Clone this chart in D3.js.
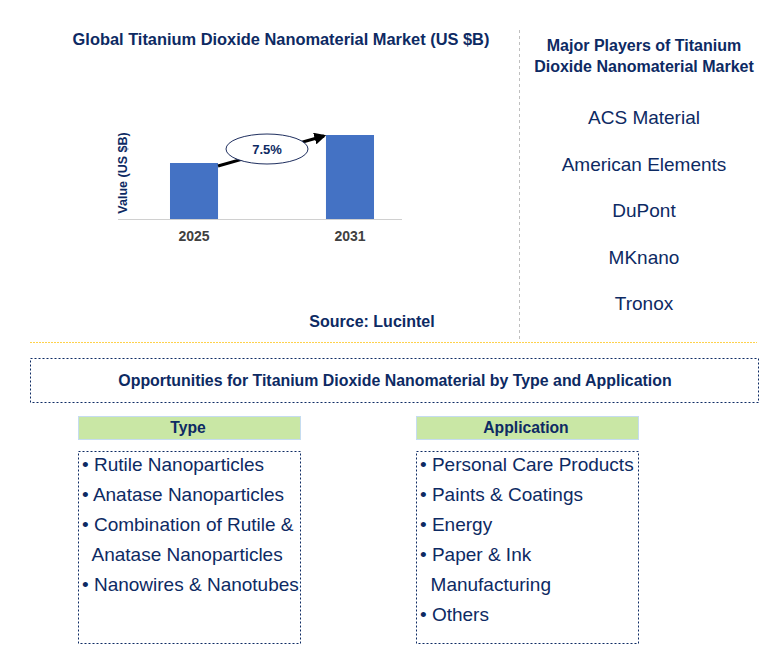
<!DOCTYPE html>
<html><head><meta charset="utf-8">
<script src="https://cdn.jsdelivr.net/npm/d3@7"></script>
<style>body{margin:0;background:#fff}text{font-family:Arial,"Liberation Sans",sans-serif}</style>
</head><body>
<svg id="c" width="783" height="667"></svg>
<script>
var years = ['2025', '2031'];
var values = [1.0, 1.5];
var cagr = '7.5%';
var players = ['ACS Material', 'American Elements', 'DuPont', 'MKnano', 'Tronox'];
var types = ['• Rutile Nanoparticles', '• Anatase Nanoparticles', '• Combination of Rutile &', '  Anatase Nanoparticles', '• Nanowires & Nanotubes'];
var apps = ['• Personal Care Products', '• Paints & Coatings', '• Energy', '• Paper & Ink', '  Manufacturing', '• Others'];

var navy = '#0d2a63';
var svg = d3.select('#c');

svg.append('text').attr('x', 281).attr('y', 45).attr('text-anchor', 'middle')
  .attr('font-size', 16.4).attr('font-weight', 'bold').attr('fill', navy)
  .text('Global Titanium Dioxide Nanomaterial Market (US $B)');

var x = d3.scaleBand().domain(years).range([123.2, 420.8]).paddingInner(0.692).paddingOuter(0.3);
var y = d3.scaleLinear().domain([0, 1.5]).range([219, 135]);

svg.append('line').attr('x1', 118).attr('x2', 402).attr('y1', 219.5).attr('y2', 219.5)
  .attr('stroke', '#d0d0d0');

svg.selectAll('rect.bar').data(values).enter().append('rect').attr('class', 'bar')
  .attr('x', function(d, i){ return x(years[i]); })
  .attr('width', x.bandwidth())
  .attr('y', function(d){ return y(d); })
  .attr('height', function(d){ return y(0) - y(d); })
  .attr('fill', '#4472c4');

svg.append('g').attr('transform', 'translate(0,219)')
  .call(d3.axisBottom(x).tickSize(0).tickPadding(12))
  .call(function(g){ g.select('.domain').remove(); })
  .selectAll('text').attr('font-size', 14).attr('font-weight', 'bold').attr('fill', '#404040')
  .attr('font-family', 'Arial,"Liberation Sans",sans-serif');

svg.append('text').attr('transform', 'translate(127,173) rotate(-90)').attr('text-anchor', 'middle')
  .attr('font-size', 12.5).attr('font-weight', 'bold').attr('fill', navy).text('Value (US $B)');

var defs = svg.append('defs');
defs.append('marker').attr('id', 'ah').attr('viewBox', '0 0 10 10').attr('refX', 8).attr('refY', 5)
  .attr('markerWidth', 4).attr('markerHeight', 4).attr('orient', 'auto')
  .append('path').attr('d', 'M0,0L10,5L0,10z').attr('fill', '#000');
var x0 = x(years[0]) + x.bandwidth(), x1 = x(years[1]);
svg.append('line').attr('x1', x0).attr('y1', y(values[0]) + 3).attr('x2', x1 - 2).attr('y2', y(values[1]) + 1)
  .attr('stroke', '#000').attr('stroke-width', 3).attr('marker-end', 'url(#ah)');
svg.append('ellipse').attr('cx', 267).attr('cy', 149).attr('rx', 41).attr('ry', 15)
  .attr('fill', '#fff').attr('stroke', '#1f2f5f');
svg.append('text').attr('x', 267).attr('y', 154).attr('text-anchor', 'middle')
  .attr('font-family', '"Liberation Serif",serif').attr('font-size', 13).attr('font-weight', 'bold')
  .attr('fill', navy).text(cagr);

svg.append('text').attr('x', 372).attr('y', 327).attr('text-anchor', 'middle')
  .attr('font-size', 16).attr('font-weight', 'bold').attr('fill', navy).text('Source: Lucintel');

svg.append('line').attr('x1', 519.5).attr('x2', 519.5).attr('y1', 30).attr('y2', 340)
  .attr('stroke', '#bfbfbf').attr('stroke-dasharray', '3,3');

svg.append('text').attr('x', 644).attr('y', 51).attr('text-anchor', 'middle')
  .attr('font-size', 16).attr('font-weight', 'bold').attr('fill', navy).text('Major Players of Titanium');
svg.append('text').attr('x', 644).attr('y', 72).attr('text-anchor', 'middle')
  .attr('font-size', 16).attr('font-weight', 'bold').attr('fill', navy).text('Dioxide Nanomaterial Market');
svg.selectAll('text.pl').data(players).enter().append('text').attr('class', 'pl')
  .attr('x', 644).attr('y', function(d, i){ return 124 + i * 46.5; }).attr('text-anchor', 'middle')
  .attr('font-size', 19).attr('fill', navy).text(function(d){ return d; });

svg.append('line').attr('x1', 30).attr('x2', 757).attr('y1', 342.5).attr('y2', 342.5)
  .attr('stroke', '#ffc000').attr('stroke-dasharray', '2,1').attr('opacity', 0.7);

svg.append('rect').attr('x', 30.5).attr('y', 358.5).attr('width', 728).attr('height', 44)
  .attr('fill', 'none').attr('stroke', navy).attr('stroke-dasharray', '2,2');
svg.append('text').attr('x', 395).attr('y', 386).attr('text-anchor', 'middle')
  .attr('font-size', 15.9).attr('font-weight', 'bold').attr('fill', navy)
  .text('Opportunities for Titanium Dioxide Nanomaterial by Type and Application');

function panel(x0, title, items) {
  svg.append('rect').attr('x', x0 + 0.5).attr('y', 416.5).attr('width', 222).attr('height', 23)
    .attr('fill', '#c9e7a5').attr('stroke', '#c5dcf0');
  svg.append('text').attr('x', x0 + 110).attr('y', 433).attr('text-anchor', 'middle')
    .attr('font-size', 15.7).attr('font-weight', 'bold').attr('fill', navy).text(title);
  svg.append('rect').attr('x', x0 + 0.5).attr('y', 451.5).attr('width', 222).attr('height', 192)
    .attr('fill', 'none').attr('stroke', navy).attr('stroke-dasharray', '2,2');
  svg.selectAll(null).data(items).enter().append('text')
    .attr('x', x0 + 4).attr('y', function(d, i){ return 471 + i * 30; })
    .attr('font-size', 19).attr('fill', navy).attr('xml:space', 'preserve')
    .text(function(d){ return d; });
}
panel(78, 'Type', types);
panel(416, 'Application', apps);
</script>
</body></html>
